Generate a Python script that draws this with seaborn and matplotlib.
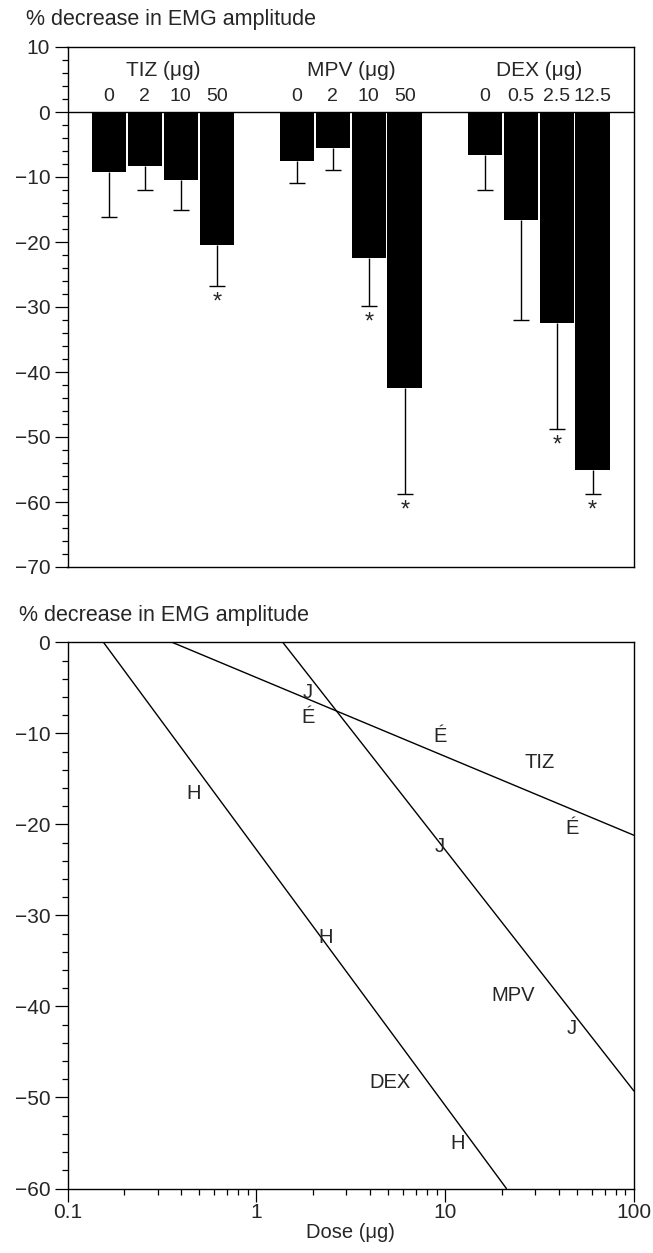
import numpy as np
import pandas as pd
import matplotlib
matplotlib.use("Agg")
import matplotlib.pyplot as plt
from matplotlib.ticker import MultipleLocator, LogLocator, NullFormatter, FixedLocator, FixedFormatter
import seaborn as sns

# ---------------- data ----------------
drugs = ["TIZ", "MPV", "DEX"]
tiz_doses = ["0", "2", "10", "50"]
mpv_doses = ["0", "2", "10", "50"]
dex_doses = ["0", "0.5", "2.5", "12.5"]

tiz_mean = [-9.3, -8.3, -10.4, -20.4]
mpv_mean = [-7.6, -5.5, -22.4, -42.4]
dex_mean = [-6.6, -16.6, -32.4, -55.1]

tiz_err = [6.8, 3.7, 4.7, 6.4]
mpv_err = [3.3, 3.4, 7.4, 16.4]
dex_err = [5.4, 15.4, 16.4, 3.7]

tiz_sig = [False, False, False, True]
mpv_sig = [False, False, True, True]
dex_sig = [False, False, True, True]

# dose-response regression lines (end points)
tiz_line_dose = [0.358, 100]
tiz_line_y = [0.0, -21.2]
mpv_line_dose = [1.38, 100]
mpv_line_y = [0.0, -49.3]
dex_line_dose = [0.155, 21.1]
dex_line_y = [0.0, -60.0]

# data points (non-zero doses, in µg)
tiz_pt_dose = [2, 10, 50]
mpv_pt_dose = [2, 10, 50]
dex_pt_dose = [0.5, 2.5, 12.5]
tiz_symbol = "É"
mpv_symbol = "J"
dex_symbol = "H"

ylabel_text = "% decrease in EMG amplitude"
xlabel_text = "Dose (μg)"

# ---------------- style ----------------
sns.set_style("ticks")
plt.rcParams["font.family"] = ["Liberation Sans", "DejaVu Sans"]
plt.rcParams["axes.unicode_minus"] = True
FS = 14.5

fig = plt.figure(figsize=(6.53, 12.53), dpi=100)
W, H = 653.0, 1253.0

def frame(l, t, r, b):
    return [l / W, 1 - b / H, (r - l) / W, (b - t) / H]

ax1 = fig.add_axes(frame(67.5, 47, 634, 567))
ax2 = fig.add_axes(frame(67.5, 642.3, 634, 1188.5))

# ---------------- top panel: bars ----------------
group_gap = 5.235
cap_half = 0.22
means = [tiz_mean, mpv_mean, dex_mean]
errs = [tiz_err, mpv_err, dex_err]
sigs = [tiz_sig, mpv_sig, dex_sig]
dose_labels = [tiz_doses, mpv_doses, dex_doses]

rows = []
for g, drug in enumerate(drugs):
    for i in range(4):
        rows.append({"drug": drug, "dose": dose_labels[g][i],
                     "pos": g * group_gap + i,
                     "value": means[g][i], "err": errs[g][i], "sig": sigs[g][i]})
bars = pd.DataFrame(rows)
bars["low"] = bars["value"] - bars["err"]

sns.barplot(data=bars, x="pos", y="value", native_scale=True, color="black",
            saturation=1, width=0.96, linewidth=0, errorbar=None, ax=ax1, zorder=3)

# one-sided (downward) error bars with caps
ax1.vlines(bars["pos"], bars["low"], bars["value"], color="black", lw=1.0, zorder=2)
ax1.hlines(bars["low"], bars["pos"] - cap_half, bars["pos"] + cap_half,
           color="black", lw=1.0, zorder=2)

for _, r in bars.iterrows():
    if r["sig"]:
        ax1.annotate("*", (r["pos"], r["low"]), xytext=(0, -4),
                     textcoords="offset points", ha="center", va="top", fontsize=17)
    ax1.text(r["pos"], 2.35, r["dose"], ha="center", va="center", fontsize=FS - 0.5)

for g, drug in enumerate(drugs):
    ax1.text(g * group_gap + 1.5, 6.45, f"{drug} (μg)", ha="center", va="center", fontsize=FS + 0.5)

ax1.axhline(0, color="black", lw=1.0, zorder=4)
ax1.set_xlim(-1.156, 14.62)
ax1.set_ylim(-70, 10)
ax1.yaxis.set_major_locator(MultipleLocator(10))
ax1.yaxis.set_minor_locator(MultipleLocator(2))
ax1.set_xticks([])
ax1.set_xlabel("")
ax1.set_ylabel("")

# ---------------- bottom panel: dose-response ----------------
lines = pd.DataFrame({
    "dose": tiz_line_dose + mpv_line_dose + dex_line_dose,
    "y": tiz_line_y + mpv_line_y + dex_line_y,
    "drug": ["TIZ"] * 2 + ["MPV"] * 2 + ["DEX"] * 2,
})
ax2.set_xscale("log")
sns.lineplot(data=lines, x="dose", y="y", hue="drug",
             palette={"TIZ": "black", "MPV": "black", "DEX": "black"},
             linewidth=1.0, legend=False, ax=ax2)

for pdose, pmean, sym in [(tiz_pt_dose, tiz_mean[1:], tiz_symbol),
                          (mpv_pt_dose, mpv_mean[1:], mpv_symbol),
                          (dex_pt_dose, dex_mean[1:], dex_symbol)]:
    for d, m in zip(pdose, pmean):
        ax2.annotate(sym, (d, m), xytext=(-4, 0), textcoords="offset points",
                     ha="center", va="center", fontsize=FS)

ax2.text(31.7, -13.2, "TIZ", ha="center", va="center", fontsize=FS)
ax2.text(22.8, -38.8, "MPV", ha="center", va="center", fontsize=FS)
ax2.text(5.09, -48.4, "DEX", ha="center", va="center", fontsize=FS)

ax2.set_xlim(0.1, 100)
ax2.set_ylim(-60, 0)
ax2.yaxis.set_major_locator(MultipleLocator(10))
ax2.yaxis.set_minor_locator(MultipleLocator(2))
ax2.xaxis.set_major_locator(FixedLocator([0.1, 1, 10, 100]))
ax2.xaxis.set_major_formatter(FixedFormatter(["0.1", "1", "10", "100"]))
ax2.xaxis.set_minor_locator(LogLocator(base=10, subs=np.arange(2, 10), numticks=20))
ax2.xaxis.set_minor_formatter(NullFormatter())
ax2.set_xlabel(xlabel_text, fontsize=FS, labelpad=1)
ax2.set_ylabel("")

for ax in (ax1, ax2):
    for s in ax.spines.values():
        s.set_visible(True)
        s.set_color("black")
        s.set_linewidth(1.0)
    ax.tick_params(which="major", direction="out", length=9.5, width=0.9,
                   labelsize=FS + 0.5, color="black", pad=3)
    ax.tick_params(which="minor", direction="out", length=4.3, width=0.9, color="black")
    ax.set_facecolor("white")
ax2.tick_params(axis="x", which="major", pad=1)

fig.text(26 / W, 1 - 20 / H, ylabel_text, ha="left", va="center", fontsize=FS + 1)
fig.text(19 / W, 1 - 615.5 / H, ylabel_text, ha="left", va="center", fontsize=FS + 1)

fig.savefig("out.png", dpi=100, facecolor="white")
